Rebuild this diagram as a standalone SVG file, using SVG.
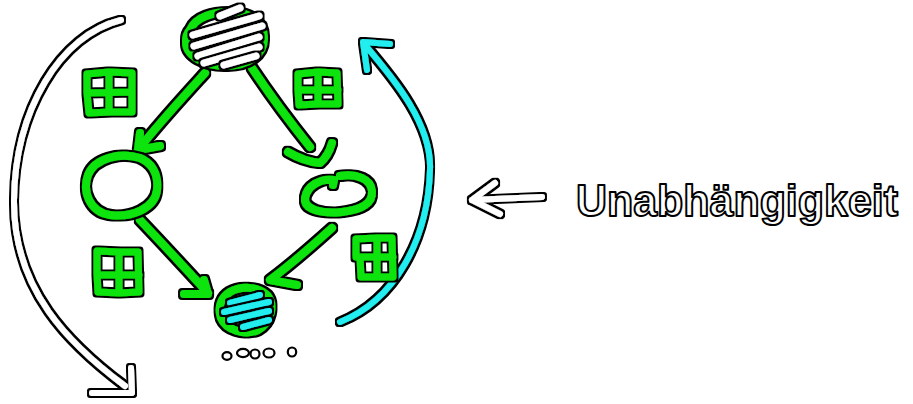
<svg xmlns="http://www.w3.org/2000/svg" width="913" height="404" viewBox="0 0 913 404">
  <defs>
    <!-- thin black ink rim drawn around every coloured stroke -->
    <filter id="ink" filterUnits="userSpaceOnUse" x="0" y="0" width="913" height="404">
      <feMorphology in="SourceAlpha" operator="dilate" radius="1.7" result="rim"/>
      <feMerge>
        <feMergeNode in="rim"/>
        <feMergeNode in="SourceGraphic"/>
      </feMerge>
    </filter>
    <style>
      .s { fill: none; stroke-linecap: round; stroke-linejoin: round; filter: url(#ink); }
      .green { stroke: #0ee40e; stroke-width: 8; }
      .icon { stroke: #0ee40e; stroke-width: 7; }
      .white { stroke: #ffffff; stroke-width: 6; }
      .hatch { stroke: #ffffff; stroke-width: 7; }
      .cyan { stroke: #22eef0; stroke-width: 6; }
      .dot { fill: #ffffff; stroke: #000000; stroke-width: 2.2; }
      .label { font-family: "Liberation Sans", "DejaVu Sans", sans-serif; font-weight: bold; font-size: 44px; fill: #ffffff; stroke: #000000; stroke-width: 2; stroke-linejoin: round; }
    </style>
  </defs>

  <rect x="0" y="0" width="913" height="404" fill="#ffffff"/>

  <!-- connectors -->
  <g id="connectors">
    <!-- top to left -->
    <path class="s green" d="M205,73 C185,95 160,122 138,150 M140,133 L138,150 L160,146"/>
    <!-- top to right -->
    <path class="s green" d="M252,68 C268,92 290,122 310,147 M288,152 C298,158 310,162 320,163 C326,158 330,150 332,143"/>
    <!-- left to bottom -->
    <path class="s green" d="M140,220 C162,243 185,268 208,293 M184,294 L208,294 L204,280"/>
    <!-- right to bottom -->
    <path class="s green" d="M332,228 C312,246 290,265 270,280 L297,285"/>
    <!-- long white arc on the left -->
    <path class="s white" d="M121,20 C60,35 15,110 14,200 C13,290 70,345 125,386 M131,368 L132,393 L92,393"/>
    <!-- cyan arc on the right -->
    <path class="s cyan" d="M340,322 C395,300 428,240 430,170 C432,125 395,80 365,45 M367,70 L363,42 L390,44"/>
    <!-- arrow pointing at the label -->
    <path class="s white" d="M542,197 L472,200 M495,183 L472,200 L500,214"/>
  </g>

  <!-- top node: hatched circle -->
  <g id="node-top">
    <path class="s green" d="M190,30 C196,16 215,12 230,12 C250,12 264,22 264,38 C264,55 248,66 226,66 C205,66 186,56 186,42 C186,36 188,32 190,30 Z"/>
    <path class="s hatch" d="M220,16 L240,8"/>
    <path class="s hatch" d="M193,35 L259,16"/>
    <path class="s hatch" d="M194,46 L262,26"/>
    <path class="s hatch" d="M198,56 L259,37"/>
    <path class="s hatch" d="M204,63 L259,47"/>
    <path class="s hatch" d="M224,65 L256,56"/>
  </g>

  <!-- left node -->
  <g id="node-left">
    <path class="s green" d="M140,158 C120,152 95,158 88,175 C82,192 90,212 110,215 C132,218 155,208 157,190 C159,172 150,162 140,158 Z"/>
  </g>

  <!-- right node -->
  <g id="node-right">
    <path class="s green" d="M333,185 L334,180 C320,178 307,186 305,198 C304,210 322,214 342,212 C362,210 373,203 372,191 C371,179 356,173 340,176"/>
  </g>

  <!-- bottom node: cyan hatched circle -->
  <g id="node-bottom">
    <path class="s green" d="M230,292 C240,286 258,286 267,295 C275,304 272,322 258,330 C245,336 226,330 221,318 C217,306 222,297 230,292 Z"/>
    <path class="s cyan" d="M230,303 L260,295"/>
    <path class="s cyan" d="M224,312 L269,302"/>
    <path class="s cyan" d="M230,320 L269,311"/>
    <path class="s cyan" d="M243,327 L269,320"/>
  </g>

  <!-- trailing dots -->
  <g id="dots">
    <ellipse class="dot" cx="227" cy="356" rx="4.5" ry="3.8"/>
    <ellipse class="dot" cx="243" cy="353" rx="6" ry="4.2"/>
    <ellipse class="dot" cx="255" cy="354" rx="4.5" ry="4.5"/>
    <ellipse class="dot" cx="269" cy="353" rx="5.5" ry="4.5"/>
    <ellipse class="dot" cx="292" cy="352" rx="4.2" ry="4.5"/>
  </g>

  <!-- grid icons -->
  <g id="icon-a">
    <path class="s icon" d="M87,74 L109,72 L132,73 L132,112 L110,112 L89,113 L87,93 Z M109,72 L109,112 M87,93 L132,92"/>
  </g>
  <g id="icon-b">
    <path class="s icon" d="M298,74 L318,72 L337,73 L338,104 L318,104 L299,105 L298,90 Z M318,72 L318,104 M298,90 L338,90"/>
  </g>
  <g id="icon-c">
    <path class="s icon" d="M97,251 L119,252 L138,252 L139,292 L119,293 L98,292 L97,274 Z M119,252 L119,293 M97,275 L139,275"/>
  </g>
  <g id="icon-d">
    <path class="s icon" d="M356,239 L377,238 L392,238 L393,277 L377,277 L361,277 L360,257 L356,256 Z M377,238 L377,277 M356,257 L393,257"/>
  </g>

  <!-- label -->
  <g id="label">
    <text class="label" x="576" y="216" textLength="322" lengthAdjust="spacingAndGlyphs">Unabhängigkeit</text>
  </g>
</svg>
